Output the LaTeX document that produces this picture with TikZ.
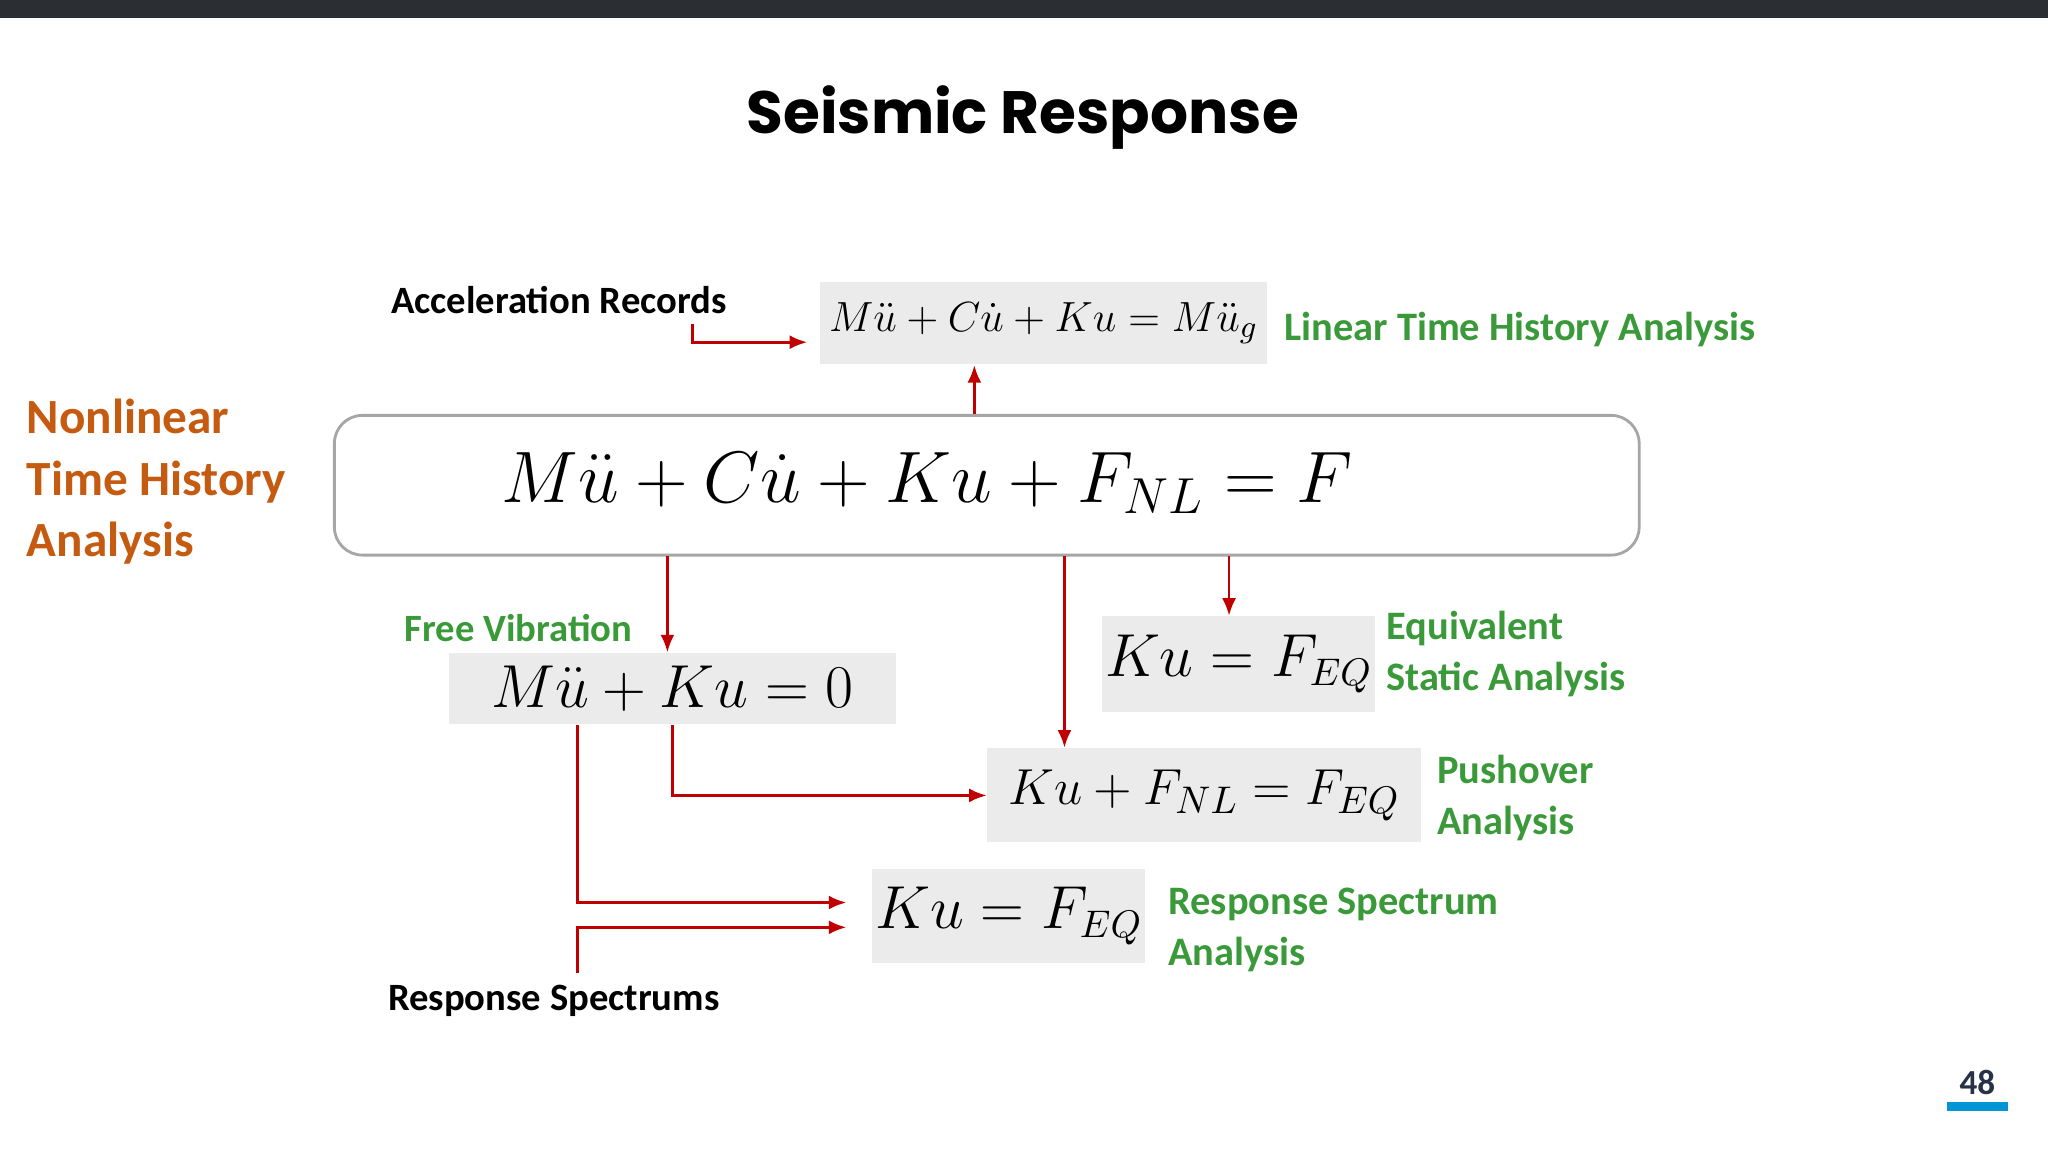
\documentclass[tikz,border=0pt]{standalone}
\usepackage{fontspec}
\setmainfont{Carlito}
\newfontfamily\titlefont{Poppins}
\usetikzlibrary{arrows.meta}
\definecolor{redA}{HTML}{C00000}
\definecolor{greenA}{HTML}{3A9A3A}
\definecolor{orangeA}{HTML}{C55A11}
\definecolor{boxgray}{HTML}{EBEBEB}
\definecolor{barA}{HTML}{2B2F33}
\definecolor{blueA}{HTML}{0096D6}
\definecolor{pgA}{HTML}{283246}
\tikzset{
  lbl/.style={font=\bfseries\fontsize{11}{13}\selectfont, inner sep=0pt},
  glbl/.style={lbl, text=greenA, align=left, anchor=west, font=\bfseries\fontsize{11.5}{14.5}\selectfont},
  eqbox/.style={fill=boxgray, inner sep=0pt},
  arr/.style={draw=redA, line width=0.8pt, -{Latex[length=5pt,width=4pt]}},
  ln/.style={draw=redA, line width=0.8pt}
}
\begin{document}
\begin{tikzpicture}[x=0.01306cm,y=-0.01306cm]
\useasboundingbox (0,0) rectangle (1568,882);
\fill[white] (0,0) rectangle (1568,882);
\fill[barA] (0,0) rectangle (1568,14);
\node[font=\titlefont\bfseries\fontsize{17}{20}\selectfont] (title) at (783,90) {Seismic Response};
% boxes
\node[eqbox, minimum width=342*0.01306cm, minimum height=63*0.01306cm] (e1) at (799,247.5)
  {\fontsize{12.5}{15}\selectfont$M\ddot u + C\dot u + Ku = M\ddot u_g$};
\node[draw=gray!70, line width=0.8pt, rounded corners=8pt, fill=white, minimum width=999*0.01306cm, minimum height=107*0.01306cm] (big) at (755.5,371.5) {};
\node (bigeq) at (710,370) {\fontsize{22}{26}\selectfont$M\ddot u + C\dot u + Ku + F_{NL} = F$};
\node[eqbox, minimum width=342*0.01306cm, minimum height=54*0.01306cm] (e2) at (515,527)
  {\fontsize{19}{22}\selectfont$M\ddot u + Ku = 0$};
\node[eqbox, minimum width=209*0.01306cm, minimum height=73*0.01306cm] (e3) at (948.5,508.5)
  {\fontsize{16}{19}\selectfont$Ku = F_{EQ}$};
\node[eqbox, minimum width=332*0.01306cm, minimum height=72*0.01306cm] (e4) at (922,609)
  {\fontsize{15.5}{19}\selectfont$Ku + F_{NL} = F_{EQ}$};
\node[eqbox, minimum width=209*0.01306cm, minimum height=72*0.01306cm] (e5) at (772.5,701)
  {\fontsize{16}{19}\selectfont$Ku = F_{EQ}$};
% labels
\node[lbl] (acc) at (428,230) {Acceleration Records};
\node[glbl] (lth) at (983,252) {Linear Time History Analysis};
\node[lbl, text=orangeA, align=left, anchor=west, font=\bfseries\fontsize{14}{17.5}\selectfont] (nl) at (20,369) {Nonlinear\\Time History\\Analysis};
\node[lbl, text=greenA] (fv) at (397,481) {Free Vibration};
\node[glbl] (esa) at (1061,501) {Equivalent\\Static Analysis};
\node[glbl] (pa) at (1100,611) {Pushover\\Analysis};
\node[glbl] (rsa) at (894,712) {Response Spectrum\\Analysis};
\node[lbl] (rs) at (424,766) {Response Spectrums};
\node[font=\bfseries\fontsize{10}{12}\selectfont, text=pgA] (pg) at (1514,829) {48};
\draw[line width=2.5pt, draw=blueA] (1491,847) -- (1537,847);
% connectors
\coordinate (a1) at (530,248);
\draw[arr] (a1) |- (618,262);
\draw[arr] (746,317) -- (e1.south -| 746,0);
\draw[arr] (511,426) -- (e2.north -| 511,0);
\draw[arr] (815,426) -- (e4.north -| 815,0);
\draw[arr] (941,426) -- (e3.north -| 941,0);
\draw[arr] (515,555) |- (e4.west);
\coordinate (r1) at (442,555);
\draw[arr] (r1) |- (648,691);
\coordinate (r2) at (442,745);
\draw[arr] (r2) |- (648,710);
\end{tikzpicture}
\end{document}
